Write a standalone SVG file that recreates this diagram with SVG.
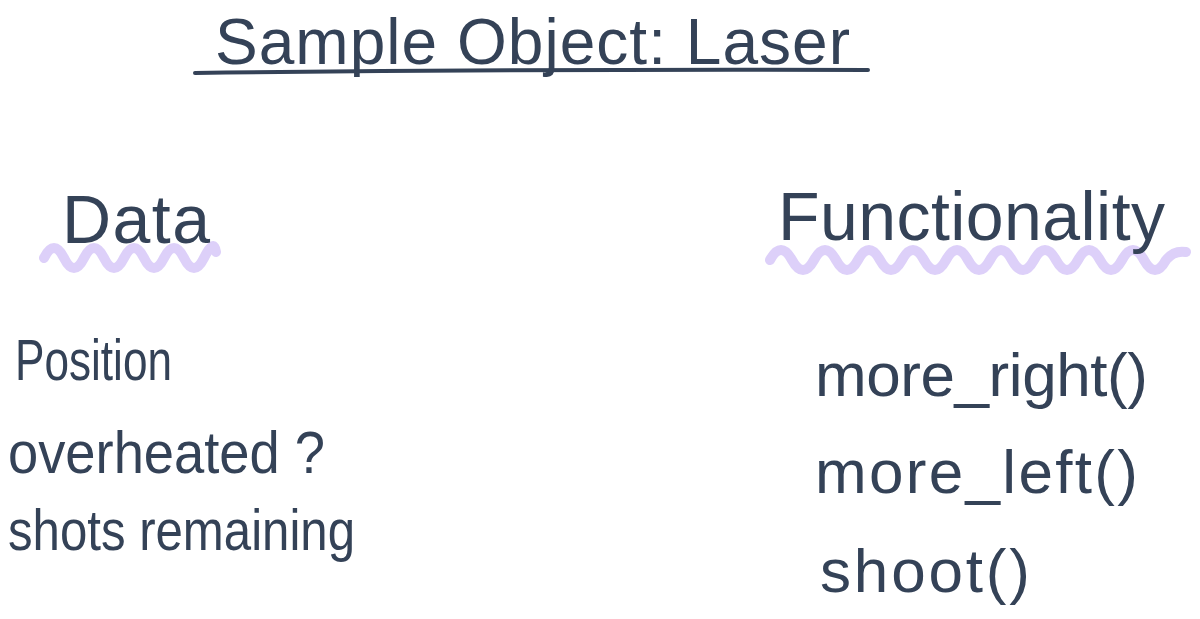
<svg xmlns="http://www.w3.org/2000/svg" width="1200" height="619" viewBox="0 0 1200 619">
<style>
.t{font-family:"Liberation Sans",Arial,sans-serif;fill:#344257;}
.wave{fill:none;stroke:#ddd0f9;stroke-width:10;stroke-linecap:round;stroke-linejoin:round;}
</style>
<rect width="1200" height="619" fill="#ffffff"/>
<g id="title">
<text class="t" x="215" y="64" font-size="64" textLength="635" lengthAdjust="spacing">Sample Object: Laser</text>
<path d="M195 73 Q530 69 868 70" fill="none" stroke="#344257" stroke-width="4" stroke-linecap="round"/>
</g>
<g id="data-heading">
<path class="wave" d="M44 258 q10 -20 20 0 t20 0 t20 0 t20 0 t20 0 t20 0 t20 0 t20 0 t12 -6"/>
<text class="t" x="62" y="243" font-size="68" textLength="148" lengthAdjust="spacing">Data</text>
</g>
<g id="functionality-heading">
<path class="wave" d="M770 260 q11 -20 22 0 t22 0 t22 0 t22 0 t22 0 t22 0 t22 0 t22 0 t22 0 t22 0 t22 0 t22 0 t22 0 t22 0 t22 0 t22 0 t22 0 t22 0 q8 -10 20 -8"/>
<text class="t" x="778" y="240" font-size="68" textLength="387" lengthAdjust="spacing">Functionality</text>
</g>
<g id="data-items">
<text class="t" x="15" y="380" font-size="58" textLength="157" lengthAdjust="spacingAndGlyphs">Position</text>
<text class="t" x="8" y="473" font-size="60" textLength="317" lengthAdjust="spacingAndGlyphs">overheated ?</text>
<text class="t" x="8" y="550" font-size="58" textLength="347" lengthAdjust="spacingAndGlyphs">shots remaining</text>
</g>
<g id="functionality-items">
<text class="t" x="815" y="396" font-size="62" textLength="333" lengthAdjust="spacing">more_right()</text>
<text class="t" x="815" y="493" font-size="62" textLength="323" lengthAdjust="spacing">more_left()</text>
<text class="t" x="820" y="592" font-size="62" textLength="210" lengthAdjust="spacing">shoot()</text>
</g>
<g id="connectors"></g>
</svg>
